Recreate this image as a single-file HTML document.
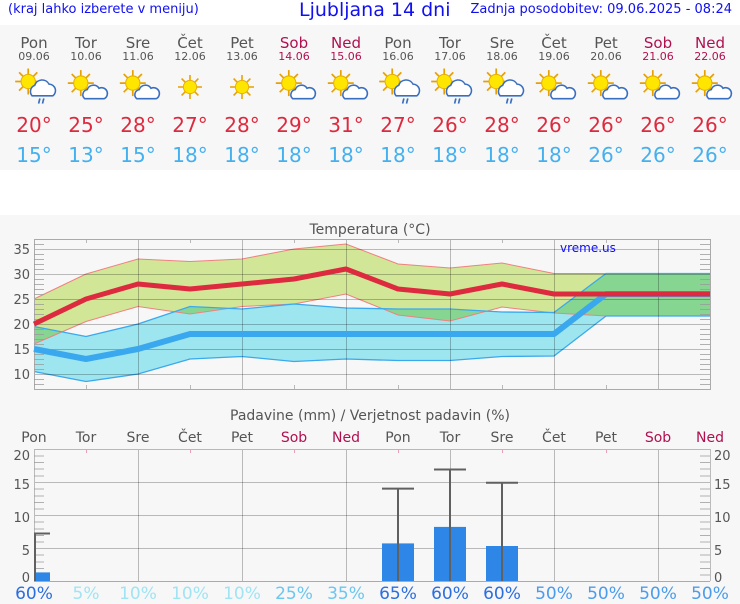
<!DOCTYPE html>
<html><head><meta charset="utf-8"><style>
html,body{margin:0;padding:0;background:#f7f7f7;}
body{width:740px;height:600px;overflow:hidden;font-family:"DejaVu Sans","Liberation Sans",sans-serif;}
svg text{font-family:"DejaVu Sans","Liberation Sans",sans-serif;}
</style></head><body>
<svg width="740" height="600" viewBox="0 0 740 600" xmlns="http://www.w3.org/2000/svg">
<defs>
<g id="sun"><g stroke="#e8a000" stroke-width="1.3"><line x1="-10" y1="0" x2="10" y2="0"/><line x1="0" y1="-10" x2="0" y2="10"/><line x1="-7" y1="-7" x2="7" y2="7"/><line x1="-7" y1="7" x2="7" y2="-7"/></g><circle r="5.5" fill="#ffe600" stroke="#e8b000" stroke-width="0.8"/></g>
<g id="cloud"><path d="M-2,8 a4,4 0 0 1 2,-7 a5,5 0 0 1 9,-1 a4,4 0 0 1 4,8 z" fill="#fff" stroke="#3a6fbf" stroke-width="1.2"/></g>
<g id="ic1"><use href="#sun" x="-4" y="-3"/><use href="#cloud" x="1" y="1"/></g>
<g id="ic2"><use href="#sun" x="-6" y="-5"/><path d="M-3,6 a5,5 0 0 1 2,-8 a6,6 0 0 1 11,-1 a5,5 0 0 1 3,9 z" fill="#fff" stroke="#3a6fbf" stroke-width="1.2"/><g stroke="#3a6fbf" stroke-width="1.3"><line x1="3" y1="8" x2="2" y2="12"/><line x1="6" y1="8" x2="5" y2="12"/></g></g>
<g id="I1"><use href="#ic1" transform="scale(1.3)"/></g>
<g id="I2"><use href="#ic2" transform="scale(1.3)"/></g>
<g id="S"><use href="#sun" transform="scale(1.2)"/></g>
</defs>
<rect x="0" y="0" width="740" height="25" fill="#fff"/>
<rect x="0" y="170" width="740" height="45" fill="#fff"/>
<text x="8" y="13" font-size="13" fill="#1010f0" font-family="Liberation Sans">(kraj lahko izberete v meniju)</text>
<text x="299" y="16" font-size="19" fill="#1010f0" font-family="Liberation Sans">Ljubljana 14 dni</text>
<text x="732" y="13" font-size="13" fill="#1010f0" text-anchor="end" font-family="Liberation Sans">Zadnja posodobitev: 09.06.2025 - 08:24</text>
<g text-anchor="middle">
<g font-size="15" fill="#555">
<text x="34" y="48">Pon</text><text x="86" y="48">Tor</text><text x="138" y="48">Sre</text><text x="190" y="48">Čet</text><text x="242" y="48">Pet</text><text x="294" y="48" fill="#b01050">Sob</text><text x="346" y="48" fill="#b01050">Ned</text>
<text x="398" y="48">Pon</text><text x="450" y="48">Tor</text><text x="502" y="48">Sre</text><text x="554" y="48">Čet</text><text x="606" y="48">Pet</text><text x="658" y="48" fill="#b01050">Sob</text><text x="710" y="48" fill="#b01050">Ned</text>
</g>
<g font-size="11" fill="#555">
<text x="34" y="60">09.06</text><text x="86" y="60">10.06</text><text x="138" y="60">11.06</text><text x="190" y="60">12.06</text><text x="242" y="60">13.06</text><text x="294" y="60" fill="#b01050">14.06</text><text x="346" y="60" fill="#b01050">15.06</text>
<text x="398" y="60">16.06</text><text x="450" y="60">17.06</text><text x="502" y="60">18.06</text><text x="554" y="60">19.06</text><text x="606" y="60">20.06</text><text x="658" y="60" fill="#b01050">21.06</text><text x="710" y="60" fill="#b01050">22.06</text>
</g>
<g font-size="20" fill="#dd2a3e">
<text x="34" y="132">20°</text><text x="86" y="132">25°</text><text x="138" y="132">28°</text><text x="190" y="132">27°</text><text x="242" y="132">28°</text><text x="294" y="132">29°</text><text x="346" y="132">31°</text>
<text x="398" y="132">27°</text><text x="450" y="132">26°</text><text x="502" y="132">28°</text><text x="554" y="132">26°</text><text x="606" y="132">26°</text><text x="658" y="132">26°</text><text x="710" y="132">26°</text>
</g>
<g font-size="20" fill="#45b0ee">
<text x="34" y="162">15°</text><text x="86" y="162">13°</text><text x="138" y="162">15°</text><text x="190" y="162">18°</text><text x="242" y="162">18°</text><text x="294" y="162">18°</text><text x="346" y="162">18°</text>
<text x="398" y="162">18°</text><text x="450" y="162">18°</text><text x="502" y="162">18°</text><text x="554" y="162">18°</text><text x="606" y="162">26°</text><text x="658" y="162">26°</text><text x="710" y="162">26°</text>
</g>
</g>
<use href="#I2" x="36" y="88"/><use href="#I1" x="86" y="87"/><use href="#I1" x="138" y="87"/><use href="#S" x="190" y="87"/><use href="#S" x="242" y="87"/><use href="#I1" x="294" y="87"/><use href="#I1" x="346" y="87"/>
<use href="#I2" x="400" y="88"/><use href="#I2" x="452" y="88"/><use href="#I2" x="504" y="88"/><use href="#I1" x="554" y="87"/><use href="#I1" x="606" y="87"/><use href="#I1" x="658" y="87"/><use href="#I1" x="710" y="87"/>

<!-- Temperature chart -->
<text x="370" y="234" font-size="14" fill="#555" text-anchor="middle">Temperatura (°C)</text>
<polygon fill="#9ee6ef" points="34,326.5 86,336.5 138,324 190,306.5 242,309 294,304 346,308 398,309 450,309 502,312 554,312.5 606,273.5 658,273.5 710,273.5 710,316 658,316 606,316 554,356 502,356.5 450,360.5 398,360.5 346,359 294,361.5 242,356.5 190,359 138,374 86,381.5 34,371.5"/>
<polygon fill="#d9ee9c" style="mix-blend-mode:multiply" points="34,299 86,274 138,259 190,261.5 242,259 294,249 346,244 398,264 450,268 502,263 554,273.5 606,273.5 658,273.5 710,273.5 710,316 658,316 606,316 554,313 502,307 450,321 398,315 346,294 294,304 242,306.5 190,314 138,306.5 86,321.5 34,344"/>
<polyline fill="none" stroke="#f08080" stroke-width="1" points="34,299 86,274 138,259 190,261.5 242,259 294,249 346,244 398,264 450,268 502,263 554,273.5 606,273.5 658,273.5 710,273.5"/>
<polyline fill="none" stroke="#f08080" stroke-width="1" points="34,344 86,321.5 138,306.5 190,314 242,306.5 294,304 346,294 398,315 450,321 502,307 554,313 606,316 658,316 710,316"/>
<polyline fill="none" stroke="#3aa8ee" stroke-width="1.3" points="34,326.5 86,336.5 138,324 190,306.5 242,309 294,304 346,308 398,309 450,309 502,312 554,312.5 606,273.5 658,273.5 710,273.5"/>
<polyline fill="none" stroke="#3aa8ee" stroke-width="1.3" points="34,371.5 86,381.5 138,374 190,359 242,356.5 294,361.5 346,359 398,360.5 450,360.5 502,356.5 554,356 606,316 658,316 710,316"/>
<g stroke="#000" stroke-opacity="0.25" stroke-width="1">
<line x1="34" y1="249.5" x2="710" y2="249.5"/><line x1="34" y1="274.5" x2="710" y2="274.5"/><line x1="34" y1="299.5" x2="710" y2="299.5"/><line x1="34" y1="324.5" x2="710" y2="324.5"/><line x1="34" y1="349.5" x2="710" y2="349.5"/><line x1="34" y1="374.5" x2="710" y2="374.5"/>
<line x1="138.5" y1="239" x2="138.5" y2="389"/><line x1="242.5" y1="239" x2="242.5" y2="389"/><line x1="346.5" y1="239" x2="346.5" y2="389"/><line x1="450.5" y1="239" x2="450.5" y2="389"/><line x1="554.5" y1="239" x2="554.5" y2="389"/><line x1="658.5" y1="239" x2="658.5" y2="389"/>
<line x1="86.5" y1="239" x2="86.5" y2="243"/><line x1="190.5" y1="239" x2="190.5" y2="243"/><line x1="294.5" y1="239" x2="294.5" y2="243"/><line x1="398.5" y1="239" x2="398.5" y2="243"/><line x1="502.5" y1="239" x2="502.5" y2="243"/><line x1="606.5" y1="239" x2="606.5" y2="243"/>
<line x1="86.5" y1="385" x2="86.5" y2="389"/><line x1="190.5" y1="385" x2="190.5" y2="389"/><line x1="294.5" y1="385" x2="294.5" y2="389"/><line x1="398.5" y1="385" x2="398.5" y2="389"/><line x1="502.5" y1="385" x2="502.5" y2="389"/><line x1="606.5" y1="385" x2="606.5" y2="389"/>
</g>
<rect x="34.5" y="239.5" width="676" height="150" fill="none" stroke="#aaa"/>
<g stroke="#999" stroke-width="0.8">
<path d="M34,244.5h10M34,254.5h10M34,259.5h10M34,264.5h10M34,269.5h10M34,279.5h10M34,284.5h10M34,289.5h10M34,294.5h10M34,304.5h10M34,309.5h10M34,314.5h10M34,319.5h10M34,329.5h10M34,334.5h10M34,339.5h10M34,344.5h10M34,354.5h10M34,359.5h10M34,364.5h10M34,369.5h10M34,379.5h10M34,384.5h10"/>
<path d="M700,244.5h10M700,254.5h10M700,259.5h10M700,264.5h10M700,269.5h10M700,279.5h10M700,284.5h10M700,289.5h10M700,294.5h10M700,304.5h10M700,309.5h10M700,314.5h10M700,319.5h10M700,329.5h10M700,334.5h10M700,339.5h10M700,344.5h10M700,354.5h10M700,359.5h10M700,364.5h10M700,369.5h10M700,379.5h10M700,384.5h10"/>
</g>
<g font-size="13" fill="#555" text-anchor="end">
<text x="30" y="254">35</text><text x="30" y="279">30</text><text x="30" y="304">25</text><text x="30" y="329">20</text><text x="30" y="354">15</text><text x="30" y="379">10</text>
</g>
<text x="560" y="252" font-size="12" fill="#1010f0" font-family="Liberation Sans">vreme.us</text>
<polyline fill="none" stroke="#3aa8ee" stroke-width="6" stroke-linejoin="round" points="34,349 86,359 138,349 190,334 242,334 294,334 346,334 398,334 450,334 502,334 554,334 606,294 658,294 710,294"/>
<polyline fill="none" stroke="#dd2a3e" stroke-width="5" stroke-linejoin="round" points="34,324 86,299 138,284 190,289 242,284 294,279 346,269 398,289 450,294 502,284 554,294 606,294 658,294 710,294"/>

<!-- Precipitation chart -->
<text x="370" y="420" font-size="14" fill="#555" text-anchor="middle">Padavine (mm) / Verjetnost padavin (%)</text>
<g font-size="14" fill="#555" text-anchor="middle">
<text x="34" y="442">Pon</text><text x="86" y="442">Tor</text><text x="138" y="442">Sre</text><text x="190" y="442">Čet</text><text x="242" y="442">Pet</text><text x="294" y="442" fill="#b01050">Sob</text><text x="346" y="442" fill="#b01050">Ned</text>
<text x="398" y="442">Pon</text><text x="450" y="442">Tor</text><text x="502" y="442">Sre</text><text x="554" y="442">Čet</text><text x="606" y="442">Pet</text><text x="658" y="442" fill="#b01050">Sob</text><text x="710" y="442" fill="#b01050">Ned</text>
</g>
<g stroke="#000" stroke-opacity="0.25">
<line x1="34" y1="482.5" x2="710" y2="482.5"/><line x1="34" y1="515.5" x2="710" y2="515.5"/><line x1="34" y1="548.5" x2="710" y2="548.5"/>
<line x1="138.5" y1="449" x2="138.5" y2="581"/><line x1="242.5" y1="449" x2="242.5" y2="581"/><line x1="346.5" y1="449" x2="346.5" y2="581"/><line x1="450.5" y1="449" x2="450.5" y2="581"/><line x1="554.5" y1="449" x2="554.5" y2="581"/><line x1="658.5" y1="449" x2="658.5" y2="581"/>
</g>
<g stroke="#e8a0b8" fill="none"><line x1="34" y1="449.5" x2="710" y2="449.5"/>
<path d="M86.5,449v4M190.5,449v4M294.5,449v4M398.5,449v4M502.5,449v4M606.5,449v4"/></g>
<line x1="34" y1="581.5" x2="710" y2="581.5" stroke="#aaa"/>
<line x1="34.5" y1="449" x2="34.5" y2="581" stroke="#bbb"/>
<line x1="710.5" y1="449" x2="710.5" y2="581" stroke="#bbb"/>
<g stroke="#999" stroke-width="0.8">
<path d="M34,456h10M34,462.5h10M34,469h10M34,476h10M34,489h10M34,496h10M34,502.5h10M34,509h10M34,522h10M34,529h10M34,535.5h10M34,542h10M34,555h10M34,562h10M34,568.5h10M34,575h10"/>
<path d="M700,456h10M700,462.5h10M700,469h10M700,476h10M700,489h10M700,496h10M700,502.5h10M700,509h10M700,522h10M700,529h10M700,535.5h10M700,542h10M700,555h10M700,562h10M700,568.5h10M700,575h10"/>
</g>
<g font-size="13" fill="#555">
<g text-anchor="end"><text x="30" y="460">20</text><text x="30" y="489">15</text><text x="30" y="522">10</text><text x="30" y="555">5</text><text x="30" y="582">0</text></g>
<text x="714" y="460">20</text><text x="714" y="489">15</text><text x="714" y="522">10</text><text x="714" y="555">5</text><text x="714" y="582">0</text>
</g>
<g fill="#2e86e6">
<rect x="34" y="572.4" width="16" height="8.6"/>
<rect x="382" y="543.4" width="32" height="37.6"/>
<rect x="434" y="526.9" width="32" height="54.1"/>
<rect x="486" y="546" width="32" height="35"/>
</g>
<g stroke="#606060" stroke-width="2" fill="none">
<path d="M35,581V533.5H50"/>
<path d="M398,581V488.6M382,488.6H414"/>
<path d="M450,581V469.5M434,469.5H466"/>
<path d="M502,581V482.7M486,482.7H518"/>
</g>
<g font-size="17" text-anchor="middle">
<text x="34" y="599" fill="#2a6ee0">60%</text>
<text x="86" y="599" fill="#a0e4f4">5%</text><text x="138" y="599" fill="#a0e4f4">10%</text><text x="190" y="599" fill="#a0e4f4">10%</text><text x="242" y="599" fill="#a0e4f4">10%</text>
<text x="294" y="599" fill="#6cc6f0">25%</text><text x="346" y="599" fill="#6cc6f0">35%</text>
<text x="398" y="599" fill="#2a6ee0">65%</text><text x="450" y="599" fill="#2a6ee0">60%</text><text x="502" y="599" fill="#2a6ee0">60%</text>
<text x="554" y="599" fill="#4a9cec">50%</text><text x="606" y="599" fill="#4a9cec">50%</text><text x="658" y="599" fill="#4a9cec">50%</text><text x="710" y="599" fill="#4a9cec">50%</text>
</g>
</svg>
</body></html>
